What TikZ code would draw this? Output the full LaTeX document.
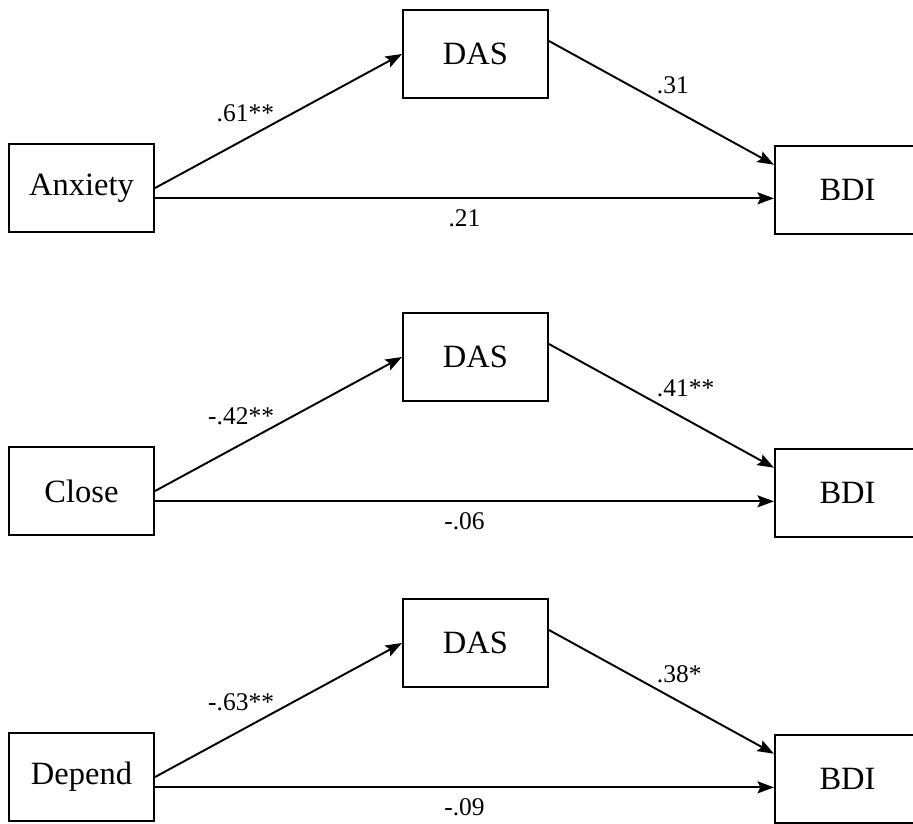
\documentclass[tikz,border=0pt]{standalone}
\usepackage{fontspec}
\setmainfont{Liberation Serif}
\usetikzlibrary{arrows.meta}

\tikzstyle{varbox} = [rectangle, draw, line width=1.2pt, minimum width=2.9cm, minimum height=1.76cm, inner sep=0pt, font=\fontsize{18.5}{22}\selectfont]
\tikzstyle{link} = [-{Stealth[length=3.3mm, width=2.4mm, inset=0.6mm]}, line width=1.1pt]
\tikzstyle{coef} = [inner sep=2pt, font=\fontsize{14.5}{17}\selectfont]

\begin{document}
\begin{tikzpicture}[x=0.02cm, y=-0.02cm]
  \useasboundingbox (0, 0) rectangle (913, 823);
  \foreach \i/\dy/\pred/\ca/\cb/\cc in {one/0/Anxiety/.61**/.31/.21, two/303/Close/-.42**/.41**/-.06, three/589/Depend/-.63**/.38*/-.09} {
    \node[varbox] (das\i) at (475.5, 54 + \dy) {DAS};
    \node[varbox] (x\i) at (81.5, 188 + \dy) {\pred};
    \node[varbox] (bdi\i) at (847.5, 190 + \dy) {BDI};
    \draw[link] (x\i.east) -- node[coef, pos=0.5, anchor=south east, yshift=-3pt] {\ca} (das\i.west);
    \draw[link] (das\i.10) -- node[coef, pos=0.46, anchor=south west] {\cb} (bdi\i.161);
    \draw[link] (x\i.-8) -- node[coef, pos=0.5, below=4pt] {\cc} (x\i.-8 -| bdi\i.west);
  }
\end{tikzpicture}
\end{document}
